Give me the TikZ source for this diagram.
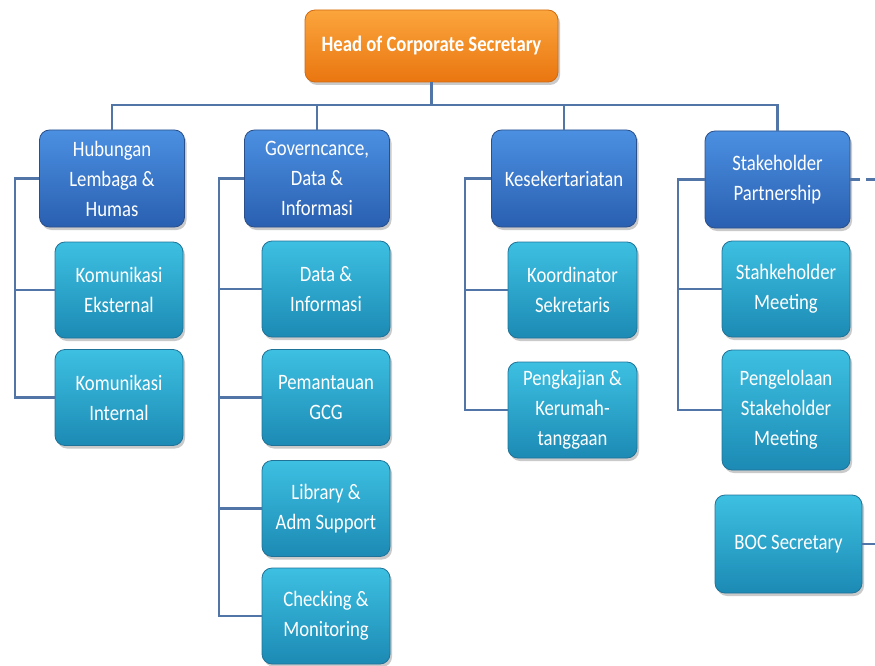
\documentclass[tikz,border=0pt]{standalone}
\usepackage{fontspec}
\setmainfont{Carlito}[FakeStretch=0.85]
\usetikzlibrary{shadows}

\definecolor{linkblue}{HTML}{5275A8}
\definecolor{orangetop}{HTML}{FBA53C}
\definecolor{orangebot}{HTML}{EA7610}
\definecolor{orangeedge}{HTML}{D06A10}
\definecolor{unittop}{HTML}{4B90E2}
\definecolor{unitbot}{HTML}{2A5FB0}
\definecolor{unitedge}{HTML}{2A4F8A}
\definecolor{subtop}{HTML}{3DC0E2}
\definecolor{subbot}{HTML}{1C8AB4}
\definecolor{subedge}{HTML}{1F7398}

\tikzset{
  box/.style={rounded corners=10pt, align=center, text=white,
    inner sep=2pt, line width=0.8pt,
    font=\fontsize{22}{30}\selectfont,
    drop shadow={shadow xshift=2pt, shadow yshift=-3pt, opacity=0.35, fill=black!60}},
  headbox/.style={box, draw=orangeedge, top color=orangetop, bottom color=orangebot,
    minimum width=253pt, minimum height=72pt, font=\bfseries\fontsize{22}{26}\selectfont},
  unitbox/.style={box, draw=unitedge, top color=unittop, bottom color=unitbot,
    minimum width=145pt, minimum height=97pt},
  subbox/.style={box, draw=subedge, top color=subtop, bottom color=subbot,
    minimum width=128pt, minimum height=96pt},
  link/.style={draw=linkblue, line width=2.6pt},
}

\begin{document}
\begin{tikzpicture}[x=1pt, y=-1pt]
\useasboundingbox (0,0) rectangle (875,666);

% head
\node[headbox] (head) at (431.5,46) {Head of Corporate Secretary};

% units
\node[unitbox] (hub) at (112,178.5) {Hubungan\\Lembaga \&\\Humas};
\node[unitbox] (gov) at (317,178.5) {Governcance,\\Data \&\\Informasi};
\node[unitbox] (kes) at (564,178.5) {Kesekertariatan};
\node[unitbox] (sta) at (777.5,179.5) {Stakeholder\\Partnership};

% sub units
\node[subbox] (ke) at (119,290) {Komunikasi\\Eksternal};
\node[subbox] (ki) at (119,397.5) {Komunikasi\\Internal};

\node[subbox] (di) at (326,289) {Data \&\\Informasi};
\node[subbox] (pg) at (326,397.5) {Pemantauan\\GCG};
\node[subbox] (la) at (326,508.5) {Library \&\\Adm Support};
\node[subbox] (cm) at (326,616) {Checking \&\\Monitoring};

\node[subbox, minimum width=129pt] (ks) at (572.5,290) {Koordinator\\Sekretaris};
\node[subbox, minimum width=129pt] (pk) at (572.5,410) {Pengkajian \&\\Kerumah-\\tanggaan};

\node[subbox] (sm) at (786,289) {Stahkeholder\\Meeting};
\node[subbox, minimum height=120pt] (ps) at (786,410) {Pengelolaan\\Stakeholder\\Meeting};
\node[subbox, minimum width=147pt, minimum height=98pt] (boc) at (788.5,544) {BOC Secretary};

% junction points
\coordinate (bus) at (431.5,105);
\coordinate (hubspine) at (15,179);
\coordinate (govspine) at (219,179);
\coordinate (kesspine) at (465,179);
\coordinate (staspine) at (678,179);
\coordinate (rightedge) at (875,179);

% top bus
\path[link] (head.south) -- (bus);
\path[link] (hub.north) -- (hub.north |- bus) -- (sta.north |- bus) -- (sta.north);
\path[link] (gov.north) -- (gov.north |- bus);
\path[link] (kes.north) -- (kes.north |- bus);

% brackets
\path[link] (hub.west) -- (hub.west -| hubspine) |- (ki.west);
\path[link] (ke.west) -- (ke.west -| hubspine);

\path[link] (gov.west) -- (gov.west -| govspine) |- (cm.west);
\path[link] (di.west) -- (di.west -| govspine);
\path[link] (pg.west) -- (pg.west -| govspine);
\path[link] (la.west) -- (la.west -| govspine);

\path[link] (kes.west) -- (kes.west -| kesspine) |- (pk.west);
\path[link] (ks.west) -- (ks.west -| kesspine);

\path[link] (sta.west) -- (sta.west -| staspine) |- (ps.west);
\path[link] (sm.west) -- (sm.west -| staspine);

% outgoing links
\path[link, dash pattern=on 10pt off 6pt] (sta.east) -- (sta.east -| rightedge);
\path[link] (boc.east) -- (boc.east -| rightedge);
\end{tikzpicture}
\end{document}
